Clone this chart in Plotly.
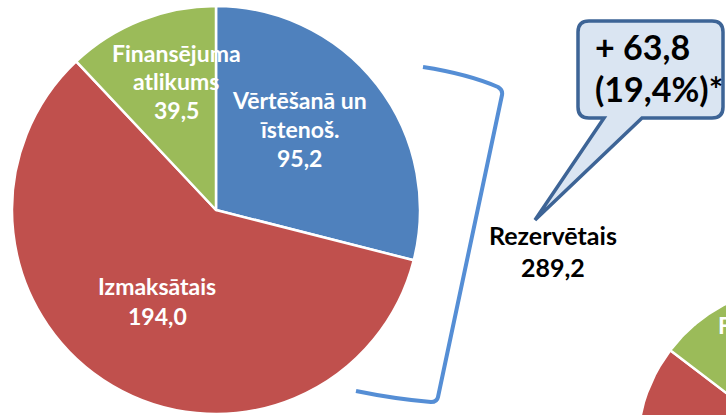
import math
import plotly.graph_objects as go

# ---- data ----
labels = ["Vērtēšanā un īstenoš.", "Izmaksātais", "Finansējuma atlikums"]
values = [95.2, 194.0, 39.5]
colors = ["#4F81BD", "#C0504D", "#9BBB59"]
label_lines = [["Vērtēšanā un", "īstenoš."], ["Izmaksātais"], ["Finansējuma", "atlikums"]]

reserved_label = "Rezervētais"
reserved_value = 289.2
change_abs = 63.8
change_pct = 19.4

# second (cropped) pie, estimated from the visible part
values2 = [110.0, 225.0, 57.5]
labels2 = ["Vērtēšanā un īstenoš.", "Izmaksātais", "Finansējuma"]


def fmt(v):
    return f"{v:.1f}".replace(".", ",")


W, H = 726, 415
FONT = "Lato"

fig = go.Figure()

# main pie
fig.add_trace(go.Pie(
    values=values, labels=labels, sort=False, direction="clockwise", rotation=0,
    marker=dict(colors=colors, line=dict(color="white", width=2.5)),
    textinfo="none", hoverinfo="label+value", showlegend=False,
    domain=dict(x=[12 / W, 420 / W], y=[1 / H, 409 / H]),
))

# second pie (mostly outside the picture) drawn as wedges on pixel-scaled axes
cx2, cy2, r2 = 800, 449, 163
tot2 = sum(values2)
start = 0.0
for v, c, lab in zip(values2, colors, labels2):
    a0 = start
    a1 = start + v / tot2 * 360
    n = 60
    xs, ys = [cx2], [cy2]
    for k in range(n + 1):
        t = math.radians(a0 + (a1 - a0) * k / n)
        xs.append(cx2 + r2 * math.sin(t))
        ys.append(cy2 - r2 * math.cos(t))
    xs.append(cx2)
    ys.append(cy2)
    fig.add_trace(go.Scatter(x=xs, y=ys, mode="lines", fill="toself", fillcolor=c,
                             line=dict(color="white", width=2.5), hoverinfo="skip",
                             showlegend=False))
    start = a1

# bracket
fig.add_shape(type="path",
              path="M 423 67 Q 468 74 498 87 Q 503 90 502 95 L 438 397 Q 437 402 431 402 Q 395 399 356 391",
              line=dict(color="#558ED5", width=4), xref="x", yref="y")

# callout bubble
rr = 11
x0, x1, y0, y1 = 578, 723, 21, 118
bubble = (f"M {x0+rr} {y0} L {x1-rr} {y0} Q {x1} {y0} {x1} {y0+rr} L {x1} {y1-rr} "
          f"Q {x1} {y1} {x1-rr} {y1} L 642 {y1} L 535 220 L 604 {y1} L {x0+rr} {y1} "
          f"Q {x0} {y1} {x0} {y1-rr} L {x0} {y0+rr} Q {x0} {y0} {x0+rr} {y0} Z")
fig.add_shape(type="path", path=bubble, fillcolor="#DAE5F2",
              line=dict(color="#3D6496", width=3.5), xref="x", yref="y")

ann = []


def add_text(x, y, text, size, color, xanchor="center"):
    ann.append(dict(x=x, y=y, xref="x", yref="y", text=text, showarrow=False,
                    xanchor=xanchor, yanchor="middle",
                    font=dict(family=FONT, size=size, color=color)))


# pie labels (white, bold)
lab_pos = [(299, [100, 129, 158]), (157, [286, 316]), (176, [53, 81, 110])]
for lines, v, (x, ys) in zip(label_lines, values, lab_pos):
    for line, y in zip(lines + [fmt(v)], ys):
        add_text(x, y, f"<b>{line}</b>", 23, "white")

# second pie visible label start
add_text(716, 325, f"<b>{labels2[2]}</b>", 23, "white", xanchor="left")

# reserved label
add_text(553, 235, f"<b>{reserved_label}</b>", 25, "black")
add_text(553, 267, f"<b>{fmt(reserved_value)}</b>", 25, "black")

# callout text
add_text(593, 46, f"<b>+ {fmt(change_abs)}</b>", 34, "black", xanchor="left")
add_text(593, 88, f"<b>({fmt(change_pct)}%)*</b>", 34, "black", xanchor="left")

fig.update_layout(
    width=W, height=H, margin=dict(l=0, r=0, t=0, b=0),
    paper_bgcolor="white", plot_bgcolor="white",
    xaxis=dict(range=[0, W], visible=False, fixedrange=True),
    yaxis=dict(range=[H, 0], visible=False, fixedrange=True),
    annotations=ann, showlegend=False,
)

fig.write_html("out.html", config={"displayModeBar": False},
               post_script="document.body.style.margin='0';document.body.style.overflow='hidden';")
